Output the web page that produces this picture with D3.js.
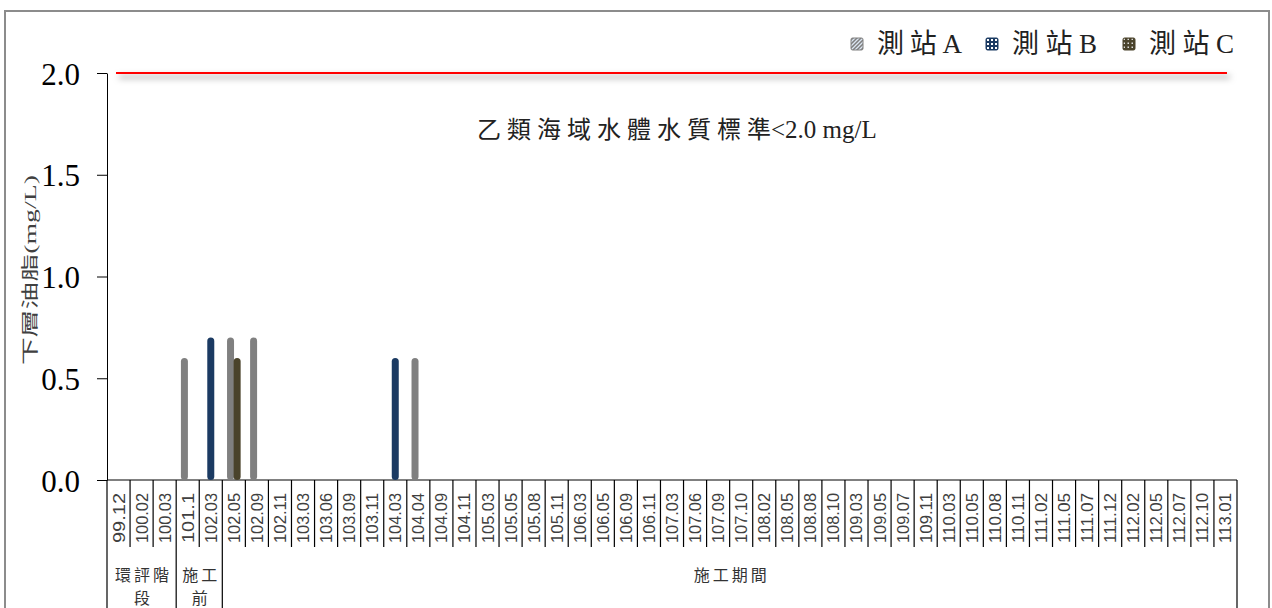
<!DOCTYPE html>
<html>
<head>
<meta charset="utf-8">
<script src="https://cdn.jsdelivr.net/npm/d3@7/dist/d3.min.js"></script>
<style>
  body { margin:0; background:#fff; }
  svg { display:block; }
  .serif { font-family: "Liberation Serif", "Noto Sans CJK TC", serif; }
  .cjk { font-family: "Liberation Serif", "Noto Sans CJK TC", serif; }
  .tick-x { font-family: "Liberation Sans", "DejaVu Sans", sans-serif; font-size: 17px; fill:#404040; }
</style>
</head>
<body>
<svg id="chart" width="1272" height="608"></svg>
<script>
// ─── data ───
const categories = [
  '99.12','100.02','100.03','101.1','102.03','102.05','102.09','102.11',
  '103.03','103.06','103.09','103.11','104.03','104.04','104.09','104.11',
  '105.03','105.05','105.08','105.11','106.03','106.05','106.09','106.11',
  '107.03','107.06','107.09','107.10','108.02','108.05','108.08','108.10',
  '109.03','109.05','109.07','109.11','110.03','110.05','110.08','110.11',
  '111.02','111.05','111.07','111.12','112.02','112.05','112.07','112.10','113.01'
];
const series = [['測站','A'],['測站','B'],['測站','C']];
// non-zero readings only: [category, value]
const stationA = [['101.1',0.6],['102.05',0.7],['102.09',0.7],['104.04',0.6]];
const stationB = [['102.03',0.7],['104.03',0.6]];
const stationC = [['102.05',0.6]];
const phases = [
  {label:['環評階','段'], from:'99.12', to:'100.03'},
  {label:['施工','前'],   from:'101.1', to:'102.03'},
  {label:['施工期間'],    from:'102.05', to:'113.01'}
];
const yTicks = [0, 0.5, 1.0, 1.5, 2.0];
const standardValue = 2.0;
const standardLabel = ['乙類海域水體水質標', '準', '<2.0 mg/L'];
const yTitle = '下層油脂(mg/L)';

const colors = ['#808080', '#1b3a62', '#4a432b'];

// ─── layout ───
const svg = d3.select('#chart');
const M = {left:107, right:1237, top:73, bottom:480};

const x = d3.scaleBand().domain(categories).range([M.left, M.right]).padding(0);
const y = d3.scaleLinear().domain([0, 2]).range([M.bottom, M.top]);
const barW = 7, offset = 3.3;

const defs = svg.append('defs');
const f = defs.append('filter').attr('id','shadow').attr('filterUnits','userSpaceOnUse')
  .attr('x',100).attr('y',60).attr('width',1160).attr('height',40);
f.append('feDropShadow').attr('dx',3).attr('dy',4).attr('stdDeviation',3)
  .attr('flood-color','#000').attr('flood-opacity',0.5);

// legend patterns
function addPattern(id, bg, draw) {
  const p = defs.append('pattern').attr('id', id).attr('width', 4).attr('height', 4)
    .attr('patternUnits','userSpaceOnUse');
  p.append('rect').attr('width',4).attr('height',4).attr('fill', bg);
  draw(p);
}
addPattern('patA', '#7f7f7f', p => p.append('path').attr('d','M0,4 L4,0 M-1,1 L1,-1 M3,5 L5,3').attr('stroke','#dce6f2').attr('stroke-width',1.3));
addPattern('patB', '#1b3a62', p => p.append('rect').attr('x',1).attr('y',1).attr('width',2).attr('height',2).attr('fill','#fff'));
addPattern('patC', '#4a432b', p => p.append('rect').attr('x',0.5).attr('y',0.5).attr('width',1.5).attr('height',1.5).attr('fill','#ddd'));

// outer frame
svg.append('rect').attr('x',5).attr('y',11).attr('width',1264).attr('height',620)
  .attr('fill','none').attr('stroke','#8c8c8c').attr('stroke-width',2);

// standard line
svg.append('line')
  .attr('x1', x(categories[0]) + 9).attr('x2', M.right - 10)
  .attr('y1', y(standardValue)).attr('y2', y(standardValue))
  .attr('stroke','#ff0000').attr('stroke-width',2.2)
  .attr('filter','url(#shadow)');

const st = svg.append('text').attr('class','cjk')
  .attr('x', 477).attr('y', 138).attr('fill','#222');
st.append('tspan').attr('font-size', 24).attr('letter-spacing', 6).text(standardLabel[0]);
st.append('tspan').attr('font-size', 24).text(standardLabel[1]);
st.append('tspan').attr('font-size', 25).text(standardLabel[2]);

// y axis
const yAxis = svg.append('g').attr('transform', `translate(${M.left},0)`)
  .call(d3.axisLeft(y).tickValues(yTicks).tickFormat(d3.format('.1f')).tickSize(10).tickSizeOuter(0));
yAxis.select('.domain').attr('stroke','#000');
yAxis.selectAll('.tick line').attr('stroke','#000');
yAxis.selectAll('.tick text').attr('class','serif').attr('font-size',31).attr('fill','#000')
  .attr('x',-27).attr('dy','0.36em');

svg.append('text').attr('class','cjk')
  .attr('transform','translate(36,270) rotate(-90)')
  .attr('text-anchor','middle').attr('font-size',17).attr('fill','#404040')
  .attr('textLength',190).attr('lengthAdjust','spacingAndGlyphs')
  .text(yTitle);

// x baseline
svg.append('line').attr('x1', M.left).attr('x2', M.right)
  .attr('y1', M.bottom).attr('y2', M.bottom).attr('stroke','#000');

// category dividers
const phaseEdges = [];
phases.forEach(ph => { phaseEdges.push(x(ph.from), x(ph.to) + x.bandwidth()); });
const edges = categories.map(c => x(c)).concat([M.right]);
svg.append('g').selectAll('line').data(edges).join('line')
  .attr('x1', d => d).attr('x2', d => d)
  .attr('y1', M.bottom)
  .attr('y2', d => phaseEdges.some(e => Math.abs(e - d) < 0.5) ? 612 : 547)
  .attr('stroke','#000').attr('stroke-width',1.2);

// tick labels
svg.append('g').selectAll('text').data(categories).join('text')
  .attr('class','tick-x')
  .attr('transform', d => `translate(${x(d) + x.bandwidth()/2 + 6},518) rotate(-90)`)
  .attr('text-anchor','middle')
  .attr('textLength', 50).attr('lengthAdjust','spacingAndGlyphs')
  .text(d => d);

// phase labels
phases.forEach(ph => {
  const cx = (x(ph.from) + x(ph.to) + x.bandwidth()) / 2;
  ph.label.forEach((line, i) => {
    svg.append('text').attr('class','cjk')
      .attr('x', cx + 2).attr('y', 581 + i * 23).attr('text-anchor','middle')
      .attr('font-size', 16).attr('fill','#333').attr('letter-spacing', 3)
      .text(line);
  });
});

// bars
[stationA, stationB, stationC].forEach((data, si) => {
  svg.append('g').selectAll('rect').data(data).join('rect')
    .attr('x', d => x(d[0]) + x.bandwidth()/2 + (si - 1) * offset - barW/2)
    .attr('y', d => y(d[1]))
    .attr('width', barW)
    .attr('height', d => y(0) - y(d[1]))
    .attr('rx', 3.5)
    .attr('fill', colors[si]);
});

// legend
const legendX = [851, 986, 1123];
const pats = ['patA','patB','patC'];
series.forEach((s, i) => {
  const g = svg.append('g').attr('transform', `translate(${legendX[i]},38)`);
  g.append('rect').attr('width',12).attr('height',12).attr('rx',1.5).attr('fill', `url(#${pats[i]})`)
    .attr('stroke', colors[i]).attr('stroke-width',1);
  g.append('text').attr('class','cjk').attr('x',26).attr('y',15).attr('fill','#222')
    .attr('font-size',27).attr('textLength',85).attr('lengthAdjust','spacing')
    .text(s[0] + s[1]);
});
</script>
</body>
</html>
